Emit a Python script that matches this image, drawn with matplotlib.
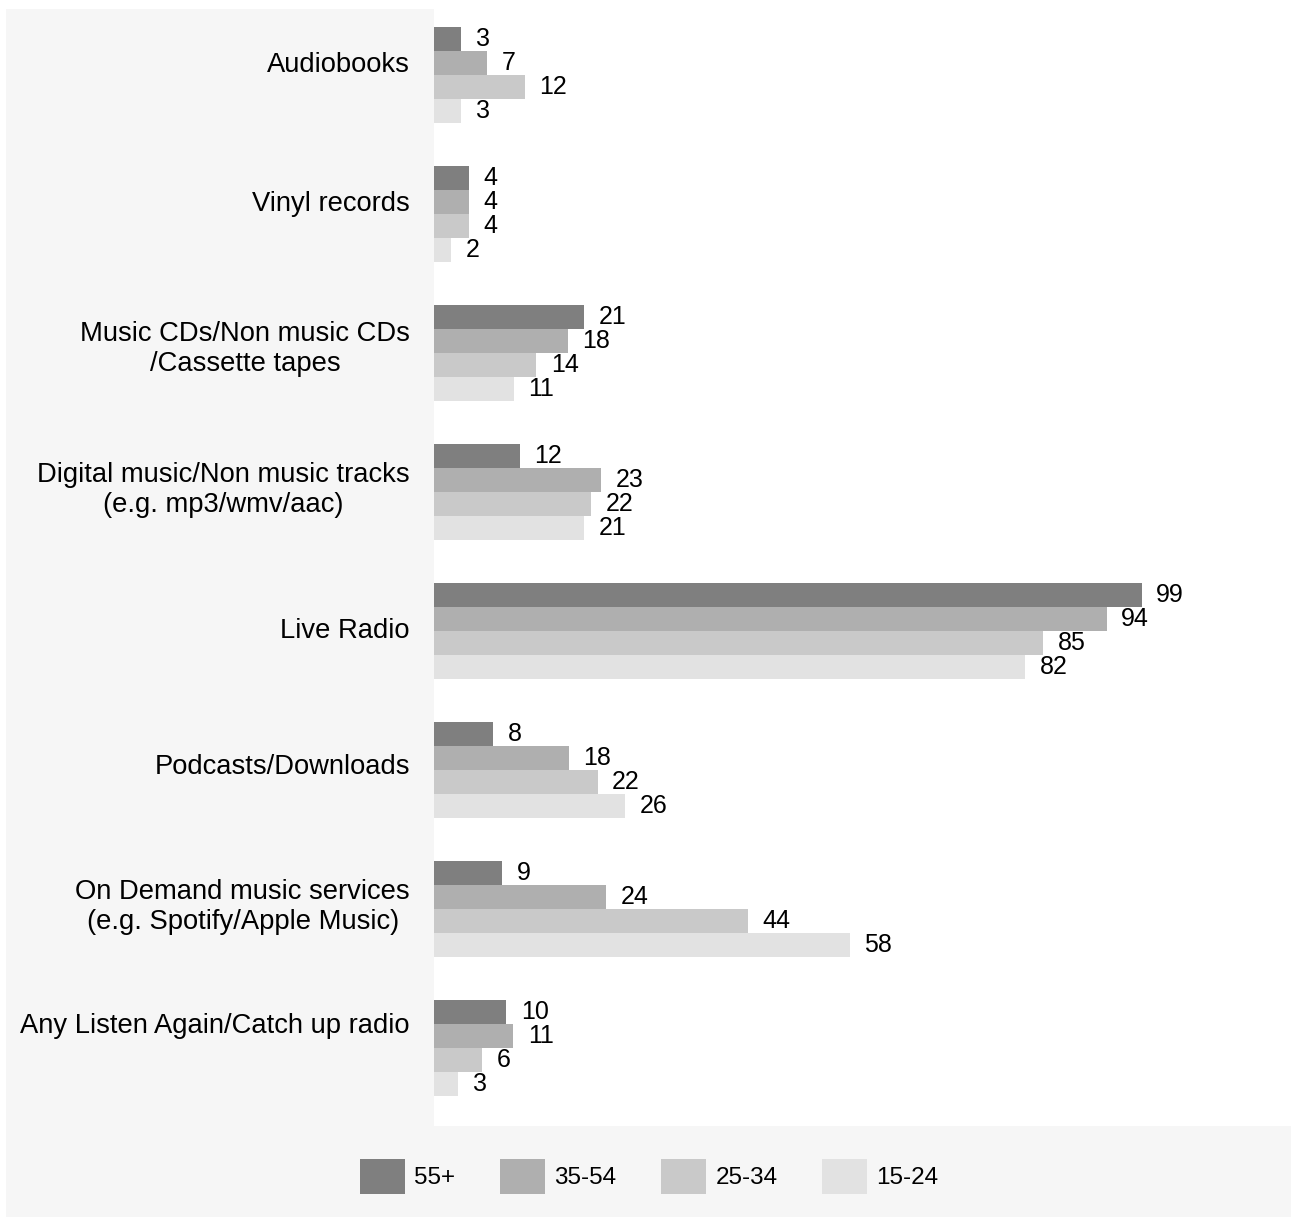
import numpy as np
import matplotlib.pyplot as plt
from matplotlib.patches import Rectangle

plt.rcParams['font.family'] = ['Liberation Sans', 'DejaVu Sans']

categories = ['Audiobooks', 'Vinyl records', 'Music CDs/Non music CDs\n/Cassette tapes',
              'Digital music/Non music tracks\n(e.g. mp3/wmv/aac)', 'Live Radio',
              'Podcasts/Downloads', 'On Demand music services\n(e.g. Spotify/Apple Music)',
              'Any Listen Again/Catch up radio']
ages = ['55+', '35-54', '25-34', '15-24']
# bar lengths; the printed labels are truncated values
v55 = [3.8, 4.9, 21.0, 12.0, 99.1, 8.3, 9.5, 10.1]
v35 = [7.4, 4.9, 18.7, 23.4, 94.2, 18.9, 24.1, 11.1]
v25 = [12.7, 4.9, 14.3, 22.0, 85.3, 22.9, 44.0, 6.7]
v15 = [3.8, 2.4, 11.2, 21.0, 82.8, 26.7, 58.2, 3.4]
colors = ['#7f7f7f', '#afafaf', '#c9c9c9', '#e2e2e2']

# small upward nudges of the category labels (px), as in the source
label_nudge = [10, 10, 4, 2, 0, 3, 2, 22]

fig = plt.figure(figsize=(12.91, 12.18), dpi=100, facecolor='white')
fig.patches.append(Rectangle((6 / 1291, 1 / 1218), 1, 1208 / 1218, transform=fig.transFigure,
                             facecolor='#f6f6f6', edgecolor='none', zorder=-10))
ax = fig.add_axes([434 / 1291, 1 - 1126 / 1218, 1 - 434 / 1291, (1126 - 9) / 1218])
ax.set_facecolor('white')

y = np.arange(len(categories))
h = 24 / 139
for i, (vals, lab) in enumerate(zip([v55, v35, v25, v15], ages)):
    bars = ax.barh(y + (i - 1.5) * h, vals, height=h, color=colors[i], label=lab)
    ax.bar_label(bars, labels=[str(int(v)) for v in vals], padding=10.5, fontsize=18)

ax.set_xlim(0, 120)
ax.set_ylim(7 + 78 / 139, -66 / 139)
ax.set_xticks([])
ax.set_yticks([])
for s in ax.spines.values():
    s.set_visible(False)

for yc, cat, dy in zip(y, categories, label_nudge):
    ax.annotate(cat, xy=(0, yc), xycoords=('axes fraction', 'data'),
                xytext=(-17.3, dy * 0.72), textcoords='offset points',
                ha='right', va='center', multialignment='center',
                fontsize=19.7, linespacing=1.24)

fig.legend(loc='center', bbox_to_anchor=(0.503, 1 - 1176.5 / 1218), ncol=4, frameon=False,
           fontsize=17.5, handlelength=1.85, handleheight=1.85, handletextpad=0.37,
           columnspacing=1.85)

fig.savefig('out.png', dpi=100, facecolor='white')
